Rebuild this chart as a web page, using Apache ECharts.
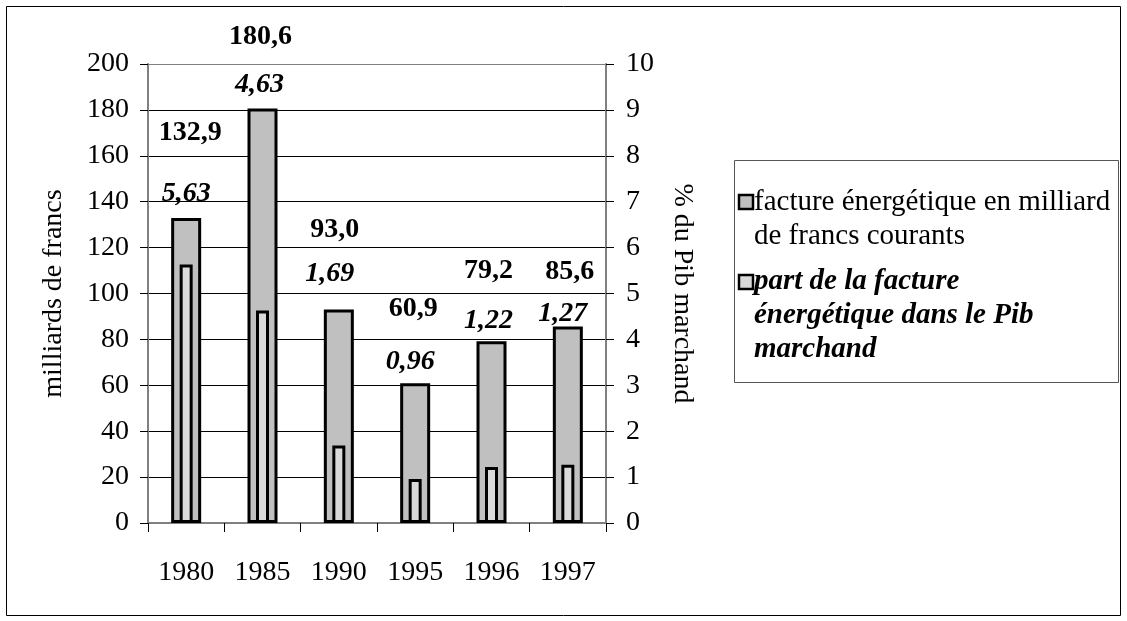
<!DOCTYPE html>
<html>
<head>
    <meta charset="utf-8">
    <title>facture énergétique</title>
    <script type="text/javascript" src="https://cdn.jsdelivr.net/npm/echarts@6/dist/echarts.min.js"></script>
    <style type="text/css">
        html, body { margin: 0; padding: 0; background: #fff; }
        #chart { width: 1127px; height: 621px; }
    </style>
</head>
<body>
<div id="chart"></div>
<script type="text/javascript">
    // données
    let years = ['1980', '1985', '1990', '1995', '1996', '1997'];
    let facture = [132.9, 180.6, 93.0, 60.9, 79.2, 85.6];      // milliards de francs courants
    let partPib = [5.63, 4.63, 1.69, 0.96, 1.22, 1.27];         // % du Pib marchand
    let seriesNames = ['facture énergétique en milliard\nde francs courants',
        'part de la facture\nénergétique dans le Pib\nmarchand'];

    // petits décalages des étiquettes (placées à la main dans l'original)
    let valueNudge = [[4, -71], [-2, -58], [-4, -66], [-2, -60], [-3, -56], [2, -41]];
    let pctNudge = [[0, -10], [-3, -10], [-9, -22], [-5, -7], [-3, -6], [-5, 1]];

    let font = 'Liberation Serif';
    let fr = function (v, d) { return v.toFixed(d).replace('.', ','); };

    let chart = echarts.init(document.getElementById('chart'), null, {renderer: 'canvas'});

    let gridLineColors = [];
    for (let i = 0; i < 10; i++) gridLineColors.push('#000');
    gridLineColors.push('#808080');

    let hiddenX = {
        type: 'category', data: years, show: false, gridIndex: 0
    };

    let option = {
        animation: false,
        backgroundColor: '#fff',
        grid: {left: 148, right: 521, top: 64, bottom: 98},
        xAxis: [
            {
                type: 'category',
                data: years,
                axisLine: {lineStyle: {color: '#808080', width: 2}},
                axisTick: {show: true, interval: 0, alignWithLabel: false, length: 9, lineStyle: {color: '#000'}},
                axisLabel: {margin: 36, color: '#000', fontFamily: font, fontSize: 28, interval: 0}
            },
            hiddenX,
            hiddenX
        ],
        yAxis: [
            {
                type: 'value', min: 0, max: 200, interval: 20,
                name: 'milliards de francs', nameLocation: 'middle', nameGap: 80, nameRotate: 90,
                nameTextStyle: {color: '#000', fontFamily: font, fontSize: 28},
                axisLine: {show: true, lineStyle: {color: '#808080', width: 2}},
                axisTick: {show: true, length: 8, lineStyle: {color: '#000'}},
                axisLabel: {margin: 19, color: '#000', fontFamily: font, fontSize: 28},
                splitLine: {show: true, lineStyle: {color: gridLineColors, width: 1}}
            },
            {
                type: 'value', min: 0, max: 10, interval: 1, position: 'right',
                name: '% du Pib marchand', nameLocation: 'middle', nameGap: 62, nameRotate: -90,
                nameTextStyle: {color: '#000', fontFamily: font, fontSize: 28},
                axisLine: {show: true, lineStyle: {color: '#808080', width: 2}},
                axisTick: {show: true, length: 8, lineStyle: {color: '#000'}},
                axisLabel: {margin: 20, color: '#000', fontFamily: font, fontSize: 28},
                splitLine: {show: false}
            }
        ],
        series: [
            {
                name: seriesNames[0],
                type: 'bar',
                xAxisIndex: 0, yAxisIndex: 0,
                barWidth: 30,
                itemStyle: {color: '#c0c0c0', borderColor: '#000', borderWidth: 3},
                data: facture.map(function (v, i) {
                    return {
                        value: v,
                        label: {
                            show: true, position: 'top', distance: 0, offset: valueNudge[i],
                            formatter: fr(v, 1), color: '#000', fontFamily: font,
                            fontSize: 28, fontWeight: 'bold', lineHeight: 28
                        }
                    };
                })
            },
            {
                name: seriesNames[1],
                type: 'bar',
                xAxisIndex: 1, yAxisIndex: 1,
                barWidth: 13,
                itemStyle: {color: '#dadada', borderColor: '#000', borderWidth: 3},
                data: partPib
            },
            {
                // porteur des étiquettes en % (invisible, à la hauteur des grandes barres)
                name: 'pct-labels',
                type: 'bar',
                xAxisIndex: 2, yAxisIndex: 0,
                barWidth: 30,
                silent: true,
                itemStyle: {color: 'rgba(0,0,0,0)'},
                z: 5,
                data: facture.map(function (v, i) {
                    return {
                        value: v,
                        label: {
                            show: true, position: 'top', distance: 0, offset: pctNudge[i],
                            formatter: fr(partPib[i], 2), color: '#000', fontFamily: font,
                            fontSize: 28, fontWeight: 'bold', fontStyle: 'italic', lineHeight: 28
                        }
                    };
                })
            }
        ],
        graphic: [
            {
                type: 'rect', silent: true,
                shape: {x: 6.5, y: 6.5, width: 1114, height: 609},
                style: {fill: 'none', stroke: '#000', lineWidth: 1}
            },
            {
                type: 'group', left: 734, top: 160,
                children: [
                    {
                        type: 'rect',
                        shape: {x: 0.5, y: 0.5, width: 384, height: 222},
                        style: {fill: '#fff', stroke: '#555', lineWidth: 1}
                    },
                    {
                        type: 'rect',
                        shape: {x: 5, y: 35, width: 14, height: 14},
                        style: {fill: '#c0c0c0', stroke: '#000', lineWidth: 2.5}
                    },
                    {
                        type: 'text', x: 20, y: 25,
                        style: {
                            text: seriesNames[0], fill: '#000', font: '29px "Liberation Serif"',
                            lineHeight: 34
                        }
                    },
                    {
                        type: 'rect',
                        shape: {x: 5, y: 115, width: 14, height: 14},
                        style: {fill: '#dadada', stroke: '#000', lineWidth: 2.5}
                    },
                    {
                        type: 'text', x: 20, y: 105,
                        style: {
                            text: seriesNames[1], fill: '#000', font: 'italic bold 29px "Liberation Serif"',
                            lineHeight: 34
                        }
                    }
                ]
            }
        ]
    };

    chart.setOption(option);
</script>
</body>
</html>
